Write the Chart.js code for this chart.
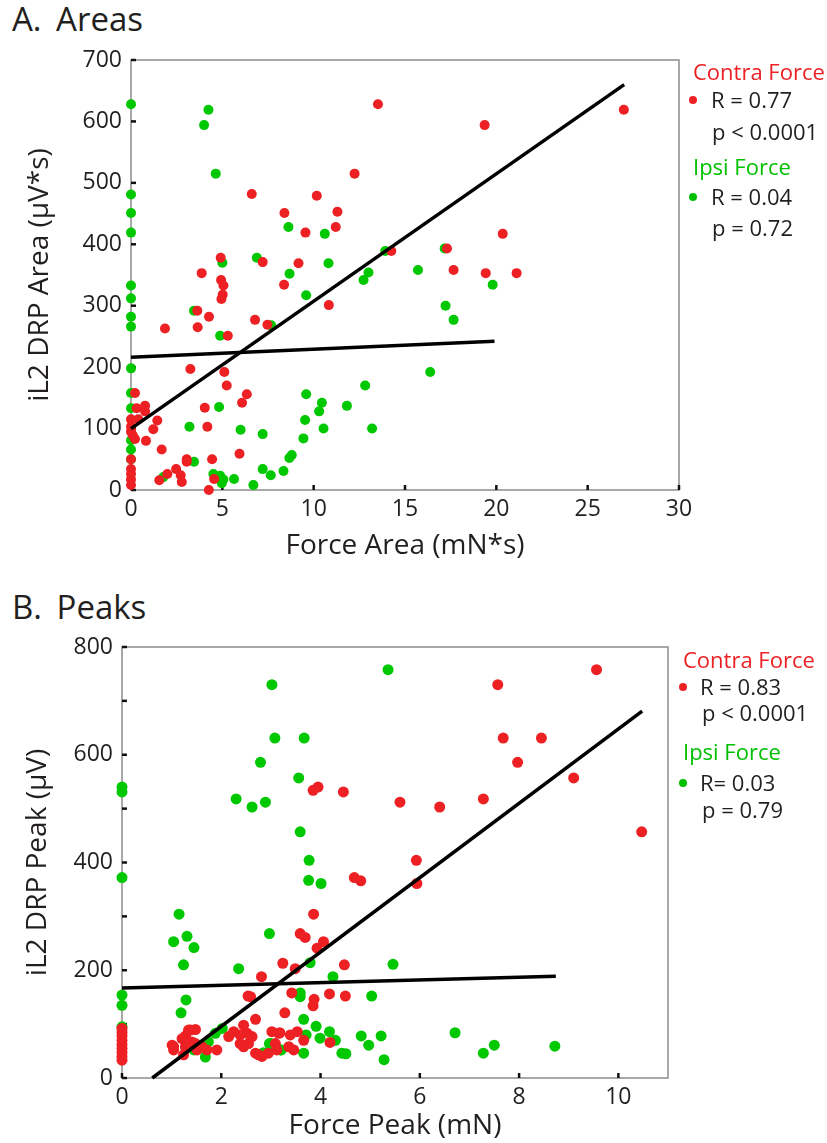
<!DOCTYPE html>
<html>
<head>
<meta charset="utf-8">
<script src="https://cdn.jsdelivr.net/npm/chart.js@4.4.1/dist/chart.umd.min.js"></script>
<style>
  body { margin: 0; background: #fff; font-family: "Open Sans", sans-serif; color: #231f20; }
  #page { position: relative; width: 827px; height: 1143px; overflow: hidden; }
  .panel { position: absolute; left: 0; width: 827px; }
  .heading { position: absolute; left: 12px; font-size: 33px; line-height: 36px; white-space: pre; }
  .heading span { margin-left: 6px; }
  .leg { position: absolute; font-size: 22px; line-height: 22px; white-space: nowrap; }
  .red { color: #ed2024; }
  .green { color: #00c000; }
  .dot { position: absolute; width: 8px; height: 8px; border-radius: 50%; }
</style>
</head>
<body>
<div id="page">
  <div class="heading" style="top:1px;">A. <span>Areas</span></div>
  <div class="panel" style="top:0px;height:575px;"><canvas id="areasChart"></canvas></div>

  <div class="leg red" style="left:693px;top:60px;">Contra Force</div>
  <div class="dot" style="left:689px;top:96px;background:#ed2024;"></div>
  <div class="leg" style="left:711px;top:88px;">R = 0.77</div>
  <div class="leg" style="left:712px;top:120px;">p &lt; 0.0001</div>
  <div class="leg green" style="left:693px;top:155px;">Ipsi Force</div>
  <div class="dot" style="left:689px;top:193px;background:#00c000;"></div>
  <div class="leg" style="left:711px;top:185px;">R = 0.04</div>
  <div class="leg" style="left:712px;top:216px;">p = 0.72</div>

  <div class="heading" style="top:589px;">B. <span>Peaks</span></div>
  <div class="panel" style="top:575px;height:568px;"><canvas id="peaksChart"></canvas></div>

  <div class="leg red" style="left:683px;top:648px;">Contra Force</div>
  <div class="dot" style="left:679px;top:683px;background:#ed2024;"></div>
  <div class="leg" style="left:700px;top:675px;">R = 0.83</div>
  <div class="leg" style="left:702px;top:701px;">p &lt; 0.0001</div>
  <div class="leg green" style="left:683px;top:740px;">Ipsi Force</div>
  <div class="dot" style="left:679px;top:779px;background:#00c000;"></div>
  <div class="leg" style="left:700px;top:771px;">R= 0.03</div>
  <div class="leg" style="left:702px;top:798px;">p = 0.79</div>
</div>

<script>
// Panel A: Areas (Force Area in mN*s vs iL2 DRP Area in uV*s)
const areaContraX = [13.52, 12.24, 6.61, 10.17, 8.4, 11.3, 11.21, 9.55, 4.91, 7.21, 9.17, 14.25, 3.87, 4.93, 5.06,
    8.38, 5.02, 4.95, 10.83, 3.63, 4.27, 6.79, 7.47, 3.65, 1.86, 5.3, 3.25, 5.11, 5.24, 6.34, 6.08, 4.04, 4.18,
    0.22, 0.31, 0.77, 0.77, 0.4, 1.44, 1.22, 0, 0, 0, 0.1, 0.22, 0.82, 1.68, 0, 0, 0, 0, 0,
    3.05, 3.05, 2.47, 1.99, 1.55, 2.72, 2.78, 4.44, 4.55, 4.26, 5.94,
    26.98, 19.36, 20.35, 17.3, 17.66, 19.42, 21.11];
const areaContraY = [628, 515, 482, 479, 451, 453, 428, 419, 378, 371, 369, 389, 353, 342, 333,
    334, 318, 311, 301, 292, 282, 277, 269, 265, 263, 251, 197, 192, 170, 156, 142, 134, 103,
    158, 133, 137, 128, 115, 113, 99, 115, 103, 95, 89, 83, 80, 66, 50, 34, 26, 17, 8,
    50, 46, 34, 26, 16, 24, 13, 50, 18, 0, 59,
    619, 594, 417, 393, 358, 353, 353];
const areaIpsiX = [0, 4.24, 4.0, 4.64, 0, 0, 0, 0, 0, 0, 0, 0, 0, 0, 0, 0, 0,
    8.62, 6.89, 5.0, 8.68, 10.61, 10.81, 9.59, 12.73, 13.0, 13.92, 3.45, 7.67, 4.88, 4.82,
    9.59, 10.45, 10.3, 11.82, 12.82, 13.2, 9.53, 10.54, 3.2, 6.0, 7.21, 9.44, 8.67, 8.8,
    8.35, 7.65, 7.21, 6.7, 5.64, 5.06, 4.88, 4.51, 3.45, 1.77,
    17.17, 15.71, 19.8, 17.22, 17.66, 16.38, 4.97];
const areaIpsiY = [628, 619, 594, 515, 481, 451, 419, 333, 312, 282, 266, 198, 158, 133, 81, 66, 50,
    428, 378, 370, 352, 417, 369, 317, 342, 354, 389, 292, 268, 251, 135,
    156, 142, 128, 137, 170, 100, 114, 100, 103, 98, 91, 84, 52, 57,
    31, 24, 34, 8, 18, 17, 23, 26, 46, 21,
    393, 358, 334, 300, 277, 192, 11];
// Fitted regression lines (end points)
const areaContraFitX = [0, 27];
const areaContraFitY = [100, 660];
const areaIpsiFitX = [0, 19.9];
const areaIpsiFitY = [216, 242];
// Tick values
const areaXTicks = [0, 5, 10, 15, 20, 25, 30];
const areaYTicks = [0, 100, 200, 300, 400, 500, 600, 700];

// Panel B: Peaks (Force Peak in mN vs iL2 DRP Peak in uV)
const peakContraX = [9.56, 7.57, 7.68, 8.45, 7.97, 9.1, 5.6, 6.4, 7.28, 10.47, 5.93, 5.94,
    3.95, 3.85, 4.46, 4.68, 4.81, 3.86, 3.59, 3.69, 4.06, 3.93, 3.24, 3.49, 4.48, 2.81,
    2.54, 2.59, 3.42, 4.18, 4.5, 3.87, 3.85, 2.69, 3.28,
    0, 0, 0, 0, 0, 0, 0, 0, 0,
    1.04, 1.04, 1.21, 1.28, 1.34, 1.48, 1.41, 1.24, 1.51, 1.61, 1.71, 1.91, 1.48, 1.28, 1.01, 1.38,
    2.15, 2.45, 2.38, 2.52, 2.55, 2.45, 2.69, 2.82, 3.02, 3.16, 3.39, 3.53, 3.09, 3.12, 3.36, 3.46,
    3.66, 2.75, 2.95, 4.19, 2.25, 2.38, 2.62, 3.18];
const peakContraY = [758, 730, 631, 631, 586, 557, 512, 503, 518, 457, 404, 361,
    540, 534, 531, 372, 366, 304, 268, 261, 253, 241, 213, 203, 210, 188,
    152, 151, 158, 156, 152, 146, 134, 109, 121,
    92, 85, 78, 70, 62, 55, 48, 40, 33,
    58, 52, 73, 78, 89, 90, 67, 43, 52, 58, 52, 52, 64, 58, 61, 89,
    77, 98, 80, 83, 64, 58, 46, 40, 86, 83, 80, 86, 64, 52, 58, 52,
    70, 43, 46, 66, 86, 64, 77, 84];
const peakIpsiX = [5.36, 3.02, 3.08, 3.67, 2.79, 3.56, 0, 0, 2.3, 2.89, 2.62, 3.59, 3.77, 3.76, 4.01,
    0, 1.15, 1.04, 1.31, 1.45, 2.97, 1.24, 2.35, 3.79, 5.46, 4.25, 0, 0, 1.29, 1.19,
    3.59, 3.59, 5.03, 3.66, 3.91, 4.18, 3.99, 4.3, 4.43, 4.51, 4.82, 4.97, 5.22, 5.28,
    3.66, 3.71, 3.21, 2.97, 2.85, 2.02, 1.88, 1.74, 1.68, 1.45, 1.28,
    6.71, 7.5, 7.28, 8.72, 0, 3.0, 3.19];
const peakIpsiY = [758, 730, 631, 631, 586, 557, 540, 531, 518, 512, 503, 457, 404, 367, 361,
    372, 304, 253, 263, 242, 268, 210, 203, 214, 211, 188, 154, 135, 145, 121,
    158, 151, 152, 109, 96, 86, 74, 70, 46, 45, 78, 61, 78, 34,
    46, 80, 52, 64, 47, 92, 83, 67, 39, 52, 57,
    84, 61, 46, 59, 95, 64, 52];
// Fitted regression lines (end points)
const peakContraFitX = [0.61, 10.48];
const peakContraFitY = [0, 681];
const peakIpsiFitX = [0, 8.74];
const peakIpsiFitY = [167, 189];
// Tick values and which of them carry a label
const peakXTicks = [0, 2, 4, 6, 8, 10];
const peakYTicks = [0, 100, 200, 300, 400, 500, 600, 700, 800];
const peakYLabels = [0, 200, 400, 600, 800];

const RED = '#ed2024';
const GREEN = '#00c800';
const FONT = '"Open Sans", sans-serif';
const TEXT = '#231f20';

// Turn two arrays into Chart.js points
function toPoints(xs, ys) {
    return xs.map((x, i) => ({ x: x, y: ys[i] }));
}

// Plugin to draw the gray frame and the inward tick marks
const frameTicksPlugin = {
    id: 'frameTicks',
    beforeDatasetsDraw(chart) {
        const ctx = chart.ctx;
        const area = chart.chartArea;
        ctx.save();
        ctx.strokeStyle = '#8c8c8c';
        ctx.lineWidth = 1.5;
        ctx.strokeRect(area.left, area.top, area.right - area.left, area.bottom - area.top);

        ctx.strokeStyle = '#111';
        ctx.lineWidth = 2.5;
        const xScale = chart.scales.x;
        xScale.ticks.forEach(t => {
            const px = xScale.getPixelForValue(t.value);
            ctx.beginPath();
            ctx.moveTo(px, area.bottom);
            ctx.lineTo(px, area.bottom - 5);
            ctx.stroke();
        });
        const yScale = chart.scales.y;
        yScale.ticks.forEach(t => {
            const py = yScale.getPixelForValue(t.value);
            ctx.beginPath();
            ctx.moveTo(area.left, py);
            ctx.lineTo(area.left + 5, py);
            ctx.stroke();
        });
        ctx.restore();
    }
};

// Function to render one scatter panel
function renderPanel(canvasId, p) {
    const ctx = document.getElementById(canvasId).getContext('2d');

    new Chart(ctx, {
        type: 'scatter',
        data: {
            datasets: [
                {
                    data: toPoints(p.contraFitX, p.contraFitY),
                    showLine: true,
                    borderColor: '#000',
                    borderWidth: 3.5,
                    pointRadius: 0,
                    clip: false
                },
                {
                    data: toPoints(p.ipsiFitX, p.ipsiFitY),
                    showLine: true,
                    borderColor: '#000',
                    borderWidth: 3.5,
                    pointRadius: 0,
                    clip: false
                },
                {
                    label: 'Contra Force',
                    data: toPoints(p.contraX, p.contraY),
                    backgroundColor: RED,
                    borderWidth: 0,
                    pointRadius: p.radius,
                    clip: false
                },
                {
                    label: 'Ipsi Force',
                    data: toPoints(p.ipsiX, p.ipsiY),
                    backgroundColor: GREEN,
                    borderWidth: 0,
                    pointRadius: p.radius,
                    clip: false
                }
            ]
        },
        options: {
            responsive: true,
            maintainAspectRatio: false,
            animation: false,
            layout: {
                padding: { left: 0, right: p.padRight, top: p.padTop, bottom: 0 }
            },
            scales: {
                x: {
                    type: 'linear',
                    min: p.xMin,
                    max: p.xMax,
                    afterBuildTicks: scale => { scale.ticks = p.xTicks.map(v => ({ value: v })); },
                    afterFit: scale => { scale.height = p.xAxisHeight; },
                    grid: { display: false, drawTicks: false },
                    border: { display: false },
                    ticks: {
                        padding: 6,
                        color: TEXT,
                        font: { family: FONT, size: 23 },
                        maxRotation: 0
                    },
                    title: {
                        display: true,
                        text: p.xTitle,
                        color: TEXT,
                        font: { family: FONT, size: 28 },
                        padding: { top: 0, bottom: p.xTitlePad }
                    }
                },
                y: {
                    type: 'linear',
                    min: p.yMin,
                    max: p.yMax,
                    afterBuildTicks: scale => { scale.ticks = p.yTicks.map(v => ({ value: v })); },
                    afterFit: scale => { scale.width = p.yAxisWidth; },
                    grid: { display: false, drawTicks: false },
                    border: { display: false },
                    ticks: {
                        padding: 9,
                        color: TEXT,
                        font: { family: FONT, size: 23 },
                        callback: value => p.yLabels.includes(value) ? String(value) : ''
                    },
                    title: {
                        display: true,
                        text: p.yTitle,
                        color: TEXT,
                        font: { family: FONT, size: 28 },
                        padding: { top: p.yTitlePad, bottom: 0 }
                    }
                }
            },
            plugins: {
                legend: { display: false },
                tooltip: { enabled: false }
            }
        },
        plugins: [frameTicksPlugin]
    });
}

renderPanel('areasChart', {
    contraX: areaContraX, contraY: areaContraY,
    ipsiX: areaIpsiX, ipsiY: areaIpsiY,
    contraFitX: areaContraFitX, contraFitY: areaContraFitY,
    ipsiFitX: areaIpsiFitX, ipsiFitY: areaIpsiFitY,
    xMin: 0, xMax: 30, yMin: 0, yMax: 700,
    xTicks: areaXTicks, yTicks: areaYTicks, yLabels: areaYTicks,
    xTitle: 'Force Area (mN*s)', yTitle: 'iL2 DRP Area (\u00b5V*s)',
    radius: 5,
    padTop: 60, padRight: 148,
    xAxisHeight: 85, yAxisWidth: 131,
    xTitlePad: 12, yTitlePad: 23
});

renderPanel('peaksChart', {
    contraX: peakContraX, contraY: peakContraY,
    ipsiX: peakIpsiX, ipsiY: peakIpsiY,
    contraFitX: peakContraFitX, contraFitY: peakContraFitY,
    ipsiFitX: peakIpsiFitX, ipsiFitY: peakIpsiFitY,
    xMin: 0, xMax: 11, yMin: 0, yMax: 800,
    xTicks: peakXTicks, yTicks: peakYTicks, yLabels: peakYLabels,
    xTitle: 'Force Peak (mN)', yTitle: 'iL2 DRP Peak (\u00b5V)',
    radius: 5.5,
    padTop: 72, padRight: 159,
    xAxisHeight: 65, yAxisWidth: 122,
    xTitlePad: 0, yTitlePad: 21
});
</script>
</body>
</html>
